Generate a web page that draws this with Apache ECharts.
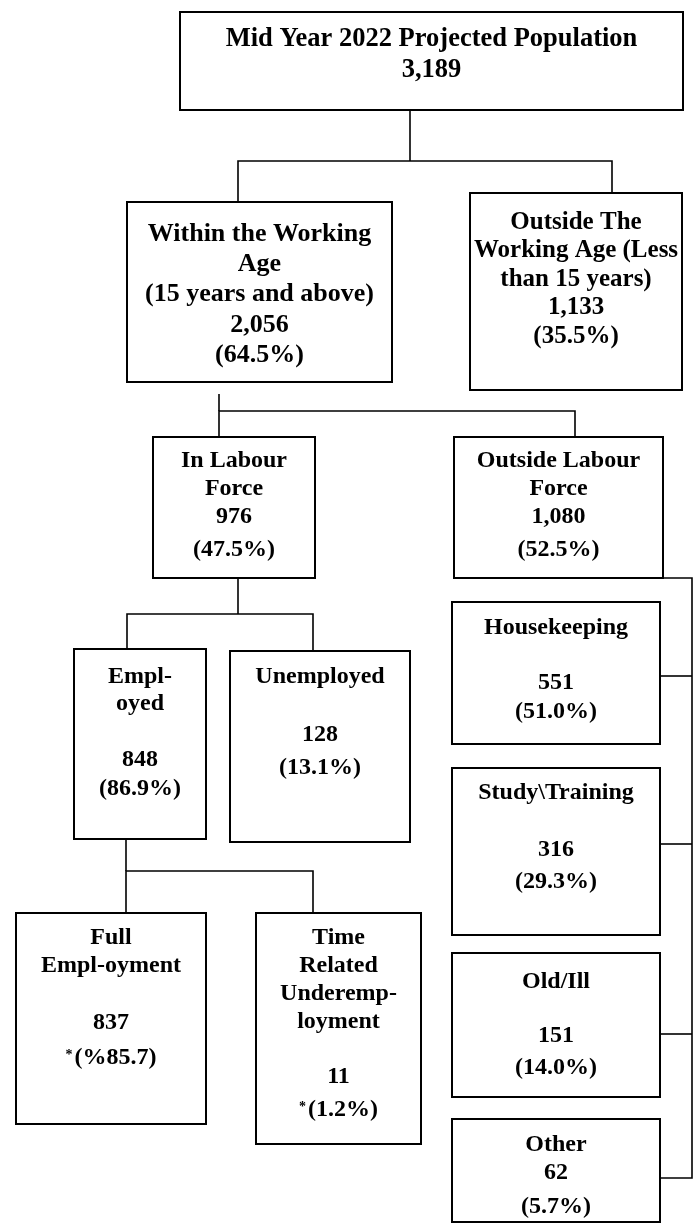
<!DOCTYPE html>
<html><head><meta charset="utf-8">
<script src="https://cdn.jsdelivr.net/npm/echarts@6/dist/echarts.min.js"></script>
<style>html,body{margin:0;padding:0;background:#fff}#c{width:696px;height:1228px}</style>
</head><body><div id="c"></div>
<script>
// ---------- DATA ----------
const nodeNames = [
  ['Mid Year 2022 Projected Population'],
  ['Within the Working', 'Age', '(15 years and above)'],
  ['Outside The', 'Working Age (Less', 'than 15 years)'],
  ['In Labour', 'Force'],
  ['Outside Labour', 'Force'],
  ['Empl-', 'oyed'],
  ['Unemployed'],
  ['Full', 'Empl-oyment'],
  ['Time', 'Related', 'Underemp-', 'loyment'],
  ['Housekeeping'],
  ['Study\\Training'],
  ['Old/Ill'],
  ['Other']
];
const nodeValues = [3189, 2056, 1133, 976, 1080, 848, 128, 837, 11, 551, 316, 151, 62];
const nodePercents = [null, 64.5, 35.5, 47.5, 52.5, 86.9, 13.1, 85.7, 1.2, 51.0, 29.3, 14.0, 5.7];
const footnoteNodes = [7, 8];
const reversedPercentNodes = [7];

// ---------- LAYOUT (positions on a 696 x 1228 canvas scale) ----------
const boxes = [
  [180, 12, 683, 110],
  [127, 202, 392, 382],
  [470, 193, 682, 390],
  [153, 437, 315, 578],
  [454, 437, 663, 578],
  [74, 649, 206, 839],
  [230, 651, 410, 842],
  [16, 913, 206, 1124],
  [256, 913, 421, 1144],
  [452, 602, 660, 744],
  [452, 768, 660, 935],
  [452, 953, 660, 1097],
  [452, 1119, 660, 1222]
];
const lineYs = [
  [39, 70],
  [234, 264, 294, 325, 355],
  [223, 251, 280, 308, 337],
  [461, 489, 517, 550],
  [461, 489, 517, 550],
  [677, 704, 760, 789],
  [677, 735, 768],
  [938, 966, 1023, 1058],
  [938, 966, 994, 1022, 1077, 1110],
  [628, 683, 712],
  [793, 850, 882],
  [982, 1036, 1068],
  [1145, 1173, 1207]
];
const fontSizes = [26.5, 26, 25, 24, 24, 24, 24, 24, 24, 24, 24, 24, 24];
const connectors = [
  [[410, 110], [410, 161]],
  [[238, 202], [238, 161], [612, 161], [612, 193]],
  [[219, 394], [219, 411]],
  [[219, 437], [219, 411], [575, 411], [575, 437]],
  [[663, 578], [692, 578], [692, 1178], [660, 1178]],
  [[660, 676], [692, 676]],
  [[660, 844], [692, 844]],
  [[660, 1034], [692, 1034]],
  [[238, 578], [238, 614]],
  [[127, 649], [127, 614], [313, 614], [313, 651]],
  [[126, 839], [126, 871]],
  [[126, 913], [126, 871], [313, 871], [313, 913]]
];

function fmtValue(v) { return v.toLocaleString('en-US'); }
function fmtPct(i) {
  const p = nodePercents[i];
  if (p == null) return null;
  const v = p.toFixed(1);
  let s = reversedPercentNodes.includes(i) ? '(%' + v + ')' : '(' + v + '%)';
  if (footnoteNodes.includes(i)) s = '{star|*}' + s;
  return s;
}

const FONT = '"Liberation Serif", "Times New Roman", serif';
const chart = echarts.init(document.getElementById('c'), null, { renderer: 'canvas' });
chart.setOption({
  animation: false,
  backgroundColor: '#fff',
  grid: { left: 0, right: 0, top: 0, bottom: 0 },
  xAxis: { type: 'value', min: 0, max: 696, show: false },
  yAxis: { type: 'value', min: 0, max: 1228, inverse: true, show: false },
  series: [
    {
      type: 'lines',
      coordinateSystem: 'cartesian2d',
      polyline: true,
      silent: true,
      lineStyle: { color: '#000', width: 1.6, opacity: 1 },
      data: connectors.map(c => ({ coords: c })),
      z: 1
    },
    {
      type: 'custom',
      coordinateSystem: 'cartesian2d',
      silent: true,
      z: 2,
      data: nodeNames.map((_, i) => [boxes[i][0], boxes[i][1], i]),
      renderItem: function (params, api) {
        const i = api.value(2);
        const b = boxes[i];
        const p0 = api.coord([b[0], b[1]]);
        const p1 = api.coord([b[2], b[3]]);
        const children = [{
          type: 'rect',
          shape: { x: p0[0], y: p0[1], width: p1[0] - p0[0], height: p1[1] - p0[1] },
          style: { fill: '#fff', stroke: '#000', lineWidth: 2 }
        }];
        const texts = nodeNames[i].slice();
        texts.push(fmtValue(nodeValues[i]));
        const pct = fmtPct(i);
        if (pct) texts.push(pct);
        texts.forEach((t, k) => {
          const c = api.coord([(b[0] + b[2]) / 2, lineYs[i][k]]);
          children.push({
            type: 'text',
            style: {
              text: t, x: c[0], y: c[1],
              align: 'center', verticalAlign: 'middle',
              fontFamily: FONT, fontWeight: 'bold', fontSize: fontSizes[i], fill: '#000',
              rich: {
                star: { fontFamily: FONT, fontWeight: 'bold', fontSize: 14, fill: '#000', padding: [0, 2, 6, 0] }
              }
            }
          });
        });
        return { type: 'group', children: children };
      }
    }
  ]
});
</script>
</body></html>
